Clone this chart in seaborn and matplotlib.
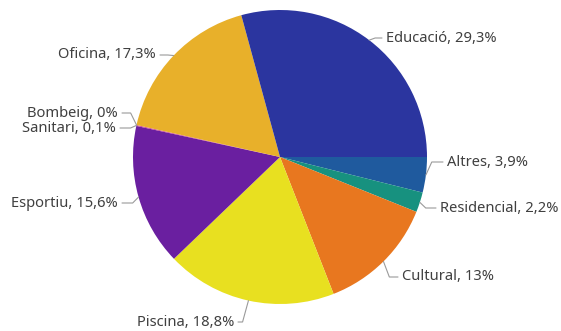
import numpy as np
import matplotlib
matplotlib.use("Agg")
import matplotlib.pyplot as plt
import seaborn as sns

# Data (clockwise from 3 o'clock)
categories = ['Altres', 'Residencial', 'Cultural', 'Piscina', 'Esportiu',
              'Sanitari', 'Bombeig', 'Oficina', 'Educació']
shares = [3.9, 2.2, 13.0, 18.8, 15.6, 0.1, 0.0, 17.3, 29.3]
colors = ['#1F5A9E', '#17917F', '#E8771F', '#E8E020', '#6A1FA0',
          '#C83D95', '#8A8A8A', '#E8B02A', '#2B359F']

sns.set_theme(style='white')
plt.rcParams['font.family'] = ['Noto Sans', 'DejaVu Sans']

W, H, DPI = 561, 331, 100
fig = plt.figure(figsize=(W / DPI, H / DPI), dpi=DPI)
ax = fig.add_axes([0, 0, 1, 1])

# pixel geometry of the pie
cx, cy, rad = 280, 157, 147

def px(x, y):
    return (x - cx) / rad, (cy - y) / rad

wedges, _ = ax.pie(shares, colors=colors, startangle=0, counterclock=False,
                   wedgeprops=dict(linewidth=0))

# label text anchors (pixels) and alignment
label_pos = {
    'Educació': (386, 38, 'left'),
    'Oficina': (156, 55, 'right'),
    'Bombeig': (118, 113, 'right'),
    'Sanitari': (116, 128, 'right'),
    'Esportiu': (118, 203, 'right'),
    'Piscina': (234, 322, 'right'),
    'Cultural': (402, 277, 'left'),
    'Residencial': (440, 208, 'left'),
    'Altres': (447, 162, 'left'),
}

line_col = '#9A9A9A'
text_col = '#404040'
for w, name, val in zip(wedges, categories, shares):
    theta = np.deg2rad((w.theta1 + w.theta2) / 2)
    ex, ey = np.cos(theta), np.sin(theta)
    tx, ty, ha = label_pos[name]
    tx, ty = px(tx, ty)
    gap = 4 / rad
    hx = tx - gap if ha == 'left' else tx + gap
    kx = ex + 0.04 * np.sign(np.cos(theta))
    ax.plot([ex, kx, hx], [ey, ty, ty], color=line_col, lw=0.8,
            solid_joinstyle='miter')
    txt = f"{name}, {val:g}%".replace('.', ',')
    ax.text(tx, ty, txt, ha=ha, va='center', fontsize=10.6, color=text_col)

x0, y0 = px(0, H)
x1, y1 = px(W, 0)
ax.set_xlim(x0, x1)
ax.set_ylim(y0, y1)
ax.set_aspect('auto')
ax.axis('off')

fig.savefig('out.png', dpi=DPI, facecolor='white')
